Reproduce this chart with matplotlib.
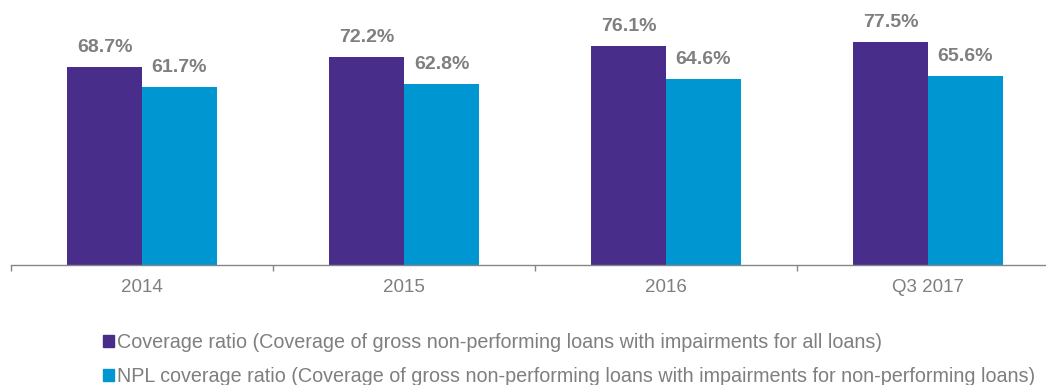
import numpy as np
import matplotlib
matplotlib.use("Agg")
import matplotlib.pyplot as plt
from matplotlib.patches import Patch

plt.rcParams["font.family"] = ["Liberation Sans", "DejaVu Sans"]

categories = ["2014", "2015", "2016", "Q3 2017"]
coverage_ratio = [68.7, 72.2, 76.1, 77.5]
npl_coverage_ratio = [61.7, 62.8, 64.6, 65.6]
series_names = [
    "Coverage ratio (Coverage of gross non-performing loans with impairments for all loans)",
    "NPL coverage ratio (Coverage of gross non-performing loans with impairments for non-performing loans)",
]

purple = "#482D8B"
blue = "#0096D2"
grey = "#7F7F7F"

fig = plt.figure(figsize=(10.46, 3.85), dpi=100)
ax = fig.add_axes([11 / 1046, 120 / 385, 1035 / 1046, 259 / 385])

x = np.arange(len(categories))
w = 0.286
b1 = ax.bar(x - w / 2, coverage_ratio, w, color=purple)
b2 = ax.bar(x + w / 2, npl_coverage_ratio, w, color=blue)

for bars in (b1, b2):
    ax.bar_label(bars, labels=[f"{v:.1f}%" for v in bars.datavalues],
                 padding=8, fontsize=14, fontweight="bold", color=grey)

ax.set_xlim(-0.5, -0.5 + 1035 / 262)
ax.set_ylim(0, 90)
ax.set_xticks(x)
ax.set_xticklabels(categories, fontsize=13.5, color=grey)
ax.set_xticks(np.arange(len(categories)) - 0.5, minor=True)
ax.tick_params(axis="x", which="major", length=0, pad=10)
ax.tick_params(axis="x", which="minor", length=4, width=1, color="#868686")
ax.set_yticks([])
for side in ("top", "right", "left"):
    ax.spines[side].set_visible(False)
ax.spines["bottom"].set_color("#868686")
ax.spines["bottom"].set_linewidth(1)

handles = [Patch(color=purple), Patch(color=blue)]
fig.legend(handles, series_names, loc="upper left",
           bbox_to_anchor=(103 / 1046, 1 - 333 / 385), frameon=False,
           fontsize=14.2, labelcolor=grey, handlelength=0.58, handleheight=0.58,
           handletextpad=0.15, labelspacing=0.75, borderaxespad=0, borderpad=0)

fig.savefig("out.png", dpi=100)
